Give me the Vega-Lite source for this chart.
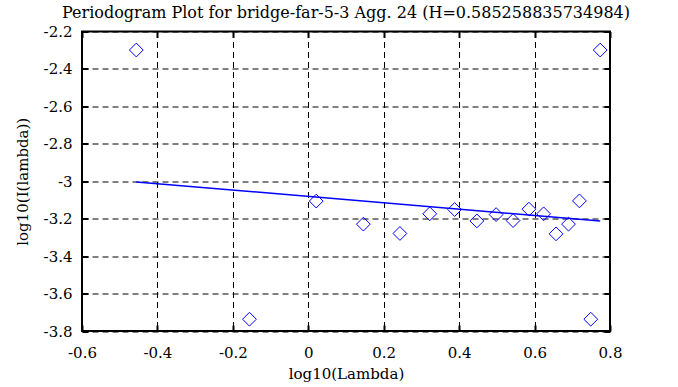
{
  "$schema": "https://vega.github.io/schema/vega-lite/v6.json",
  "width": 528,
  "height": 299.5,
  "autosize": "none",
  "padding": {"left": 82, "top": 31.5, "right": 68, "bottom": 56},
  "background": "white",
  "title": {
    "text": "Periodogram Plot for bridge-far-5-3 Agg. 24 (H=0.585258835734984)",
    "font": "DejaVu Serif",
    "fontSize": 16,
    "fontWeight": "normal",
    "color": "black",
    "anchor": "middle",
    "offset": 4
  },
  "config": {
    "view": {"stroke": "black", "strokeWidth": 2},
    "axis": {
      "labelFont": "DejaVu Serif",
      "labelFontSize": 15,
      "labelColor": "black",
      "titleFont": "DejaVu Serif",
      "titleFontSize": 15,
      "titleFontWeight": "normal",
      "titleColor": "black",
      "grid": true,
      "gridColor": "black",
      "gridDash": [6, 4],
      "gridWidth": 1,
      "gridOpacity": 1,
      "domain": false,
      "ticks": true,
      "tickSize": -6,
      "tickWidth": 2,
      "tickColor": "black",
      "labelExpr": "replace(format(datum.value, '~g'), '\u2212', '-')"
    }
  },
  "datasets": {
    "points": [
      {"log_lambda": -0.456, "log_I": -2.299},
      {"log_lambda": -0.156, "log_I": -3.737},
      {"log_lambda": 0.021, "log_I": -3.106},
      {"log_lambda": 0.146, "log_I": -3.229},
      {"log_lambda": 0.243, "log_I": -3.279},
      {"log_lambda": 0.322, "log_I": -3.174},
      {"log_lambda": 0.388, "log_I": -3.151},
      {"log_lambda": 0.447, "log_I": -3.212},
      {"log_lambda": 0.498, "log_I": -3.178},
      {"log_lambda": 0.543, "log_I": -3.210},
      {"log_lambda": 0.585, "log_I": -3.149},
      {"log_lambda": 0.624, "log_I": -3.174},
      {"log_lambda": 0.657, "log_I": -3.281},
      {"log_lambda": 0.690, "log_I": -3.229},
      {"log_lambda": 0.719, "log_I": -3.105},
      {"log_lambda": 0.749, "log_I": -3.737},
      {"log_lambda": 0.774, "log_I": -2.299}
    ],
    "fit": [
      {"log_lambda": -0.456, "log_I": -3.0035},
      {"log_lambda": 0.774, "log_I": -3.213}
    ]
  },
  "layer": [
    {
      "data": {"name": "points"},
      "mark": {"type": "point", "shape": "diamond", "size": 190, "filled": false, "color": "#0000ff", "strokeWidth": 1, "opacity": 1},
      "encoding": {
        "x": {
          "field": "log_lambda", "type": "quantitative",
          "scale": {"domain": [-0.6, 0.8], "nice": false, "zero": false},
          "axis": {"title": "log10(Lambda)", "values": [-0.6, -0.4, -0.2, 0, 0.2, 0.4, 0.6, 0.8], "labelPadding": 20, "titlePadding": 6, "labelFlush": false}
        },
        "y": {
          "field": "log_I", "type": "quantitative",
          "scale": {"domain": [-3.8, -2.2], "nice": false, "zero": false},
          "axis": {"title": "log10(I(lambda))", "values": [-3.8, -3.6, -3.4, -3.2, -3, -2.8, -2.6, -2.4, -2.2], "labelPadding": 16, "titlePadding": 13, "labelFlush": false}
        }
      }
    },
    {
      "data": {"name": "fit"},
      "mark": {"type": "line", "color": "#0000ff", "strokeWidth": 1.5},
      "encoding": {
        "x": {"field": "log_lambda", "type": "quantitative", "axis": {"orient": "top", "labels": false, "title": null, "grid": false, "values": [-0.6, -0.4, -0.2, 0, 0.2, 0.4, 0.6, 0.8]}},
        "y": {"field": "log_I", "type": "quantitative", "axis": {"orient": "right", "labels": false, "title": null, "grid": false, "values": [-3.8, -3.6, -3.4, -3.2, -3, -2.8, -2.6, -2.4, -2.2]}}
      }
    }
  ],
  "resolve": {"axis": {"x": "independent", "y": "independent"}}
}
